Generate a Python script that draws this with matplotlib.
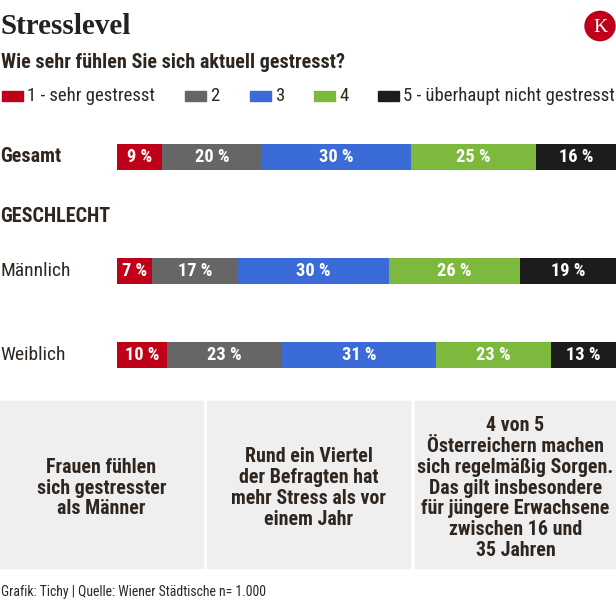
import matplotlib.pyplot as plt
from matplotlib.patches import Rectangle, Circle
from matplotlib import font_manager

names = {f.name for f in font_manager.fontManager.ttflist}
SANS = ['Roboto Condensed', 'Roboto'] if 'Roboto Condensed' in names else ['Roboto']
plt.rcParams['font.family'] = SANS + ['DejaVu Sans']

# data
rows = ['Gesamt', 'Männlich', 'Weiblich']
levels = ['1 - sehr gestresst', '2', '3', '4', '5 - überhaupt nicht gestresst']
gesamt = [9, 20, 30, 25, 16]
maennlich = [7, 17, 30, 26, 19]
weiblich = [10, 23, 31, 23, 13]
facts = [
    'Frauen fühlen\nsich gestresster\nals Männer',
    'Rund ein Viertel\nder Befragten hat\nmehr Stress als vor\neinem Jahr',
    '4 von 5\nÖsterreichern machen\nsich regelmäßig Sorgen.\nDas gilt insbesondere\nfür jüngere Erwachsene\nzwischen 16 und\n35 Jahren',
]

colors = ['#bf0019', '#666666', '#3a6bd6', '#7db93c', '#1c1c1c']
TXT = '#2e261f'
W, H = 616, 600


def px(x, y):
    return x / W, 1 - y / H


fig = plt.figure(figsize=(W / 100, H / 100), dpi=100)

# header
fig.text(*px(1, 26), 'Stresslevel', family=['Liberation Serif'], fontsize=21,
         fontweight='bold', color='#222222', va='center')
fig.patches.append(Circle(px(600, 26), 15 / W, transform=fig.transFigure,
                          color='#bf0019', zorder=3))
fig.text(*px(600, 27), 'K', family=['Liberation Serif'], fontsize=14, color='white',
         ha='center', va='center', zorder=4)
fig.text(*px(1, 62), 'Wie sehr fühlen Sie sich aktuell gestresst?', fontsize=14.5,
         fontweight='bold', color=TXT, va='center')

# legend
leg_x = [2, 185, 250, 314, 378]
for x, lab, c in zip(leg_x, levels, colors):
    fig.patches.append(Rectangle(px(x, 101), 21 / W, 10 / H, transform=fig.transFigure,
                                 color=c))
    fig.text(*px(x + 25, 96), lab, fontsize=13.5, color=TXT, va='center')

# bars
ax = fig.add_axes([117 / W, 1 - 372 / H, (W - 117) / W, (372 - 140) / H])
row_y = [17, 131, 215]
bar_h = 26
data = [gesamt, maennlich, weiblich]
for y, vals in zip(row_y, data):
    tot = sum(vals)
    left = 0
    for v, c in zip(vals, colors):
        w = v / tot * 100
        ax.barh(y, w, left=left, height=bar_h, color=c, linewidth=0)
        ax.text(left + w / 2, y, f'{v} %', color='white', fontsize=13.2,
                fontweight='bold', ha='center', va='center')
        left += w
ax.set_xlim(0, 100)
ax.set_ylim(232, 0)
ax.axis('off')

fig.text(*px(0, 157), 'Gesamt', fontsize=14.5, fontweight='bold', color=TXT, va='center')
fig.text(*px(0, 216), 'GESCHLECHT', fontsize=14.5, fontweight='bold', color=TXT, va='center')
fig.text(*px(0, 271), 'Männlich', fontsize=14, color=TXT, va='center')
fig.text(*px(0, 355), 'Weiblich', fontsize=14, color=TXT, va='center')

# fact boxes
boxes = [(0, 203), (207, 410), (415, 616)]
for (x0, x1), t in zip(boxes, facts):
    fig.patches.append(Rectangle(px(x0, 568), (x1 - x0) / W, (568 - 401) / H,
                                 transform=fig.transFigure, color='#efefef', zorder=0))
    fig.text(*px((x0 + x1) / 2, 488), t, fontsize=14.3, fontweight='bold', color=TXT,
             ha='center', va='center', linespacing=1.13)

fig.text(*px(1, 592), 'Grafik: Tichy | Quelle: Wiener Städtische n= 1.000', fontsize=9.9,
         color=TXT, va='center')

fig.savefig('out.png', dpi=100, facecolor='white')
